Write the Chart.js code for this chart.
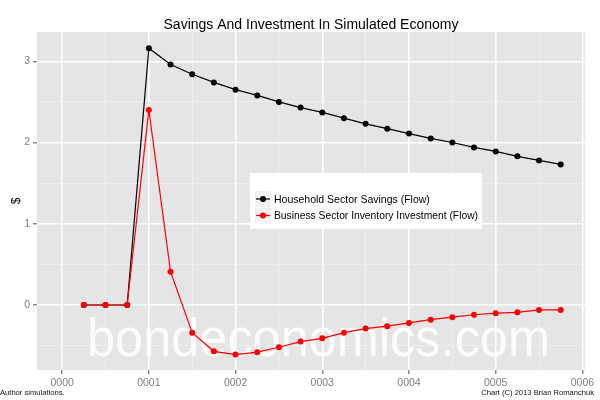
<!DOCTYPE html>
<html lang="en">
<head>
<meta charset="UTF-8">
<title>Savings And Investment In Simulated Economy</title>
<script src="https://cdn.jsdelivr.net/npm/chart.js"></script>
<style>
  body { margin: 0; background: #fff; }
  #wrap { width: 600px; height: 400px; }
</style>
</head>
<body>
<div id="wrap"><canvas id="grafico"></canvas></div>
<script>
// simulation periods (quarters)
const periodos = [0.25, 0.5, 0.75, 1, 1.25, 1.5, 1.75, 2, 2.25, 2.5, 2.75, 3, 3.25, 3.5, 3.75, 4, 4.25, 4.5, 4.75, 5, 5.25, 5.5, 5.75];
const poupancaFamilias = [0, 0, 0, 3.16, 2.96, 2.84, 2.74, 2.65, 2.58, 2.50, 2.43, 2.37, 2.30, 2.23, 2.17, 2.11, 2.05, 2.00, 1.94, 1.89, 1.83, 1.78, 1.73];
const investimentoEstoques = [0, 0, 0, 2.40, 0.41, -0.34, -0.57, -0.61, -0.58, -0.52, -0.45, -0.41, -0.34, -0.29, -0.26, -0.22, -0.18, -0.15, -0.12, -0.10, -0.09, -0.06, -0.06];
const nomesSeries = ['Household Sector Savings (Flow)', 'Business Sector Inventory Investment (Flow)'];
const coresSeries = ['#000000', '#ff0000'];

// grid positions and labels
const xGrade = [0, 0.5, 1, 1.5, 2, 2.5, 3, 3.5, 4, 4.5, 5, 5.5, 6];
const xRotulos = ['0000', '0001', '0002', '0003', '0004', '0005', '0006'];
const yGrade = [-0.5, 0, 0.5, 1, 1.5, 2, 2.5, 3];
const yRotulos = ['0', '1', '2', '3'];

const fonte = "'Liberation Sans', Arial, sans-serif";

function pares(ys) {
  return periodos.map(function (p, i) { return { x: p, y: ys[i] }; });
}

function ehInteiro(v) { return Math.abs(v - Math.round(v)) < 1e-9; }

const gradeLargura = function (c) { return c.tick && ehInteiro(c.tick.value) ? 1.5 : 0.7; };
const gradeCor = function (c) { return c.tick && ehInteiro(c.tick.value) ? '#ffffff' : '#f4f4f4'; };
const marcaCor = function (c) { return c.tick && ehInteiro(c.tick.value) ? '#8a8a8a' : 'rgba(0,0,0,0)'; };

// panel background, watermark, title, legend and captions
const enfeites = {
  id: 'enfeites',
  beforeDraw(chart) {
    const a = chart.chartArea, g = chart.ctx;
    g.save();
    g.fillStyle = '#e5e5e5';
    g.fillRect(a.left, a.top, a.right - a.left, a.bottom - a.top);
    g.restore();
  },
  beforeDatasetsDraw(chart) {
    const g = chart.ctx;
    g.save();
    g.fillStyle = 'rgba(255,255,255,0.88)';
    g.font = '53px ' + fonte;
    g.textBaseline = 'alphabetic';
    g.fillText('bondeconomics.com', 87, 356, 463);
    g.restore();
  },
  afterDraw(chart) {
    const g = chart.ctx, a = chart.chartArea;
    g.save();
    g.fillStyle = '#000';
    g.font = '14px ' + fonte;
    g.textAlign = 'center';
    g.textBaseline = 'alphabetic';
    g.fillText('Savings And Investment In Simulated Economy', (a.left + a.right) / 2, 29);

    // legend
    g.fillStyle = '#fff';
    g.fillRect(250, 173, 232, 56);
    for (let i = 0; i < nomesSeries.length; i++) {
      const yc = 199 + i * 16.5;
      g.fillStyle = '#f2f2f2';
      g.fillRect(255, yc - 8, 16, 16);
      g.strokeStyle = coresSeries[i];
      g.lineWidth = 1.2;
      g.beginPath(); g.moveTo(256, yc); g.lineTo(270, yc); g.stroke();
      g.fillStyle = coresSeries[i];
      g.beginPath(); g.arc(263, yc, 3, 0, Math.PI * 2); g.fill();
      g.fillStyle = '#000';
      g.font = '10.5px ' + fonte;
      g.textAlign = 'left';
      g.textBaseline = 'middle';
      g.fillText(nomesSeries[i], 274, yc + 1, 204);
    }

    // captions
    g.fillStyle = '#111';
    g.font = '7.6px ' + fonte;
    g.textBaseline = 'alphabetic';
    g.textAlign = 'left';
    g.fillText('Author simulations.', 0, 395);
    g.textAlign = 'right';
    g.fillText('Chart (C) 2013 Brian Romanchuk', 594, 395);
    g.restore();
  }
};

const ctx = document.getElementById('grafico');

new Chart(ctx, {
  type: 'line',
  data: {
    datasets: [{
      label: nomesSeries[0],
      data: pares(poupancaFamilias),
      borderColor: coresSeries[0],
      backgroundColor: coresSeries[0],
      borderWidth: 1.2,
      pointRadius: 3,
      pointBorderWidth: 0,
      order: 1
    }, {
      label: nomesSeries[1],
      data: pares(investimentoEstoques),
      borderColor: coresSeries[1],
      backgroundColor: coresSeries[1],
      borderWidth: 1.2,
      pointRadius: 3,
      pointBorderWidth: 0,
      order: 0
    }]
  },
  options: {
    responsive: true,
    maintainAspectRatio: false,
    animation: false,
    layout: { padding: { top: 32, right: 15, left: 0, bottom: 0 } },
    plugins: {
      legend: { display: false },
      tooltip: { enabled: false }
    },
    scales: {
      x: {
        type: 'linear',
        min: -0.29,
        max: 6.03,
        afterBuildTicks: function (s) { s.ticks = xGrade.map(function (v) { return { value: v }; }); },
        afterFit: function (s) { s.height = 30; },
        ticks: {
          autoSkip: false,
          maxRotation: 0,
          padding: 3,
          color: '#7f7f7f',
          font: { family: fonte, size: 10.5 },
          callback: function (v) { return ehInteiro(v) ? xRotulos[Math.round(v)] : ''; }
        },
        grid: { color: gradeCor, lineWidth: gradeLargura, tickColor: marcaCor, tickLength: 4 },
        border: { display: false }
      },
      y: {
        min: -0.8,
        max: 3.36,
        afterBuildTicks: function (s) { s.ticks = yGrade.map(function (v) { return { value: v }; }); },
        afterFit: function (s) { s.width = 37; },
        title: { display: true, text: '$', color: '#000', font: { family: fonte, size: 12 }, padding: { top: 9, bottom: 0 } },
        ticks: {
          autoSkip: false,
          padding: 3,
          color: '#7f7f7f',
          font: { family: fonte, size: 10.5 },
          callback: function (v) { return ehInteiro(v) && v >= 0 ? yRotulos[Math.round(v)] : ''; }
        },
        grid: { color: gradeCor, lineWidth: gradeLargura, tickColor: marcaCor, tickLength: 4 },
        border: { display: false }
      }
    }
  },
  plugins: [enfeites]
});
</script>
</body>
</html>
